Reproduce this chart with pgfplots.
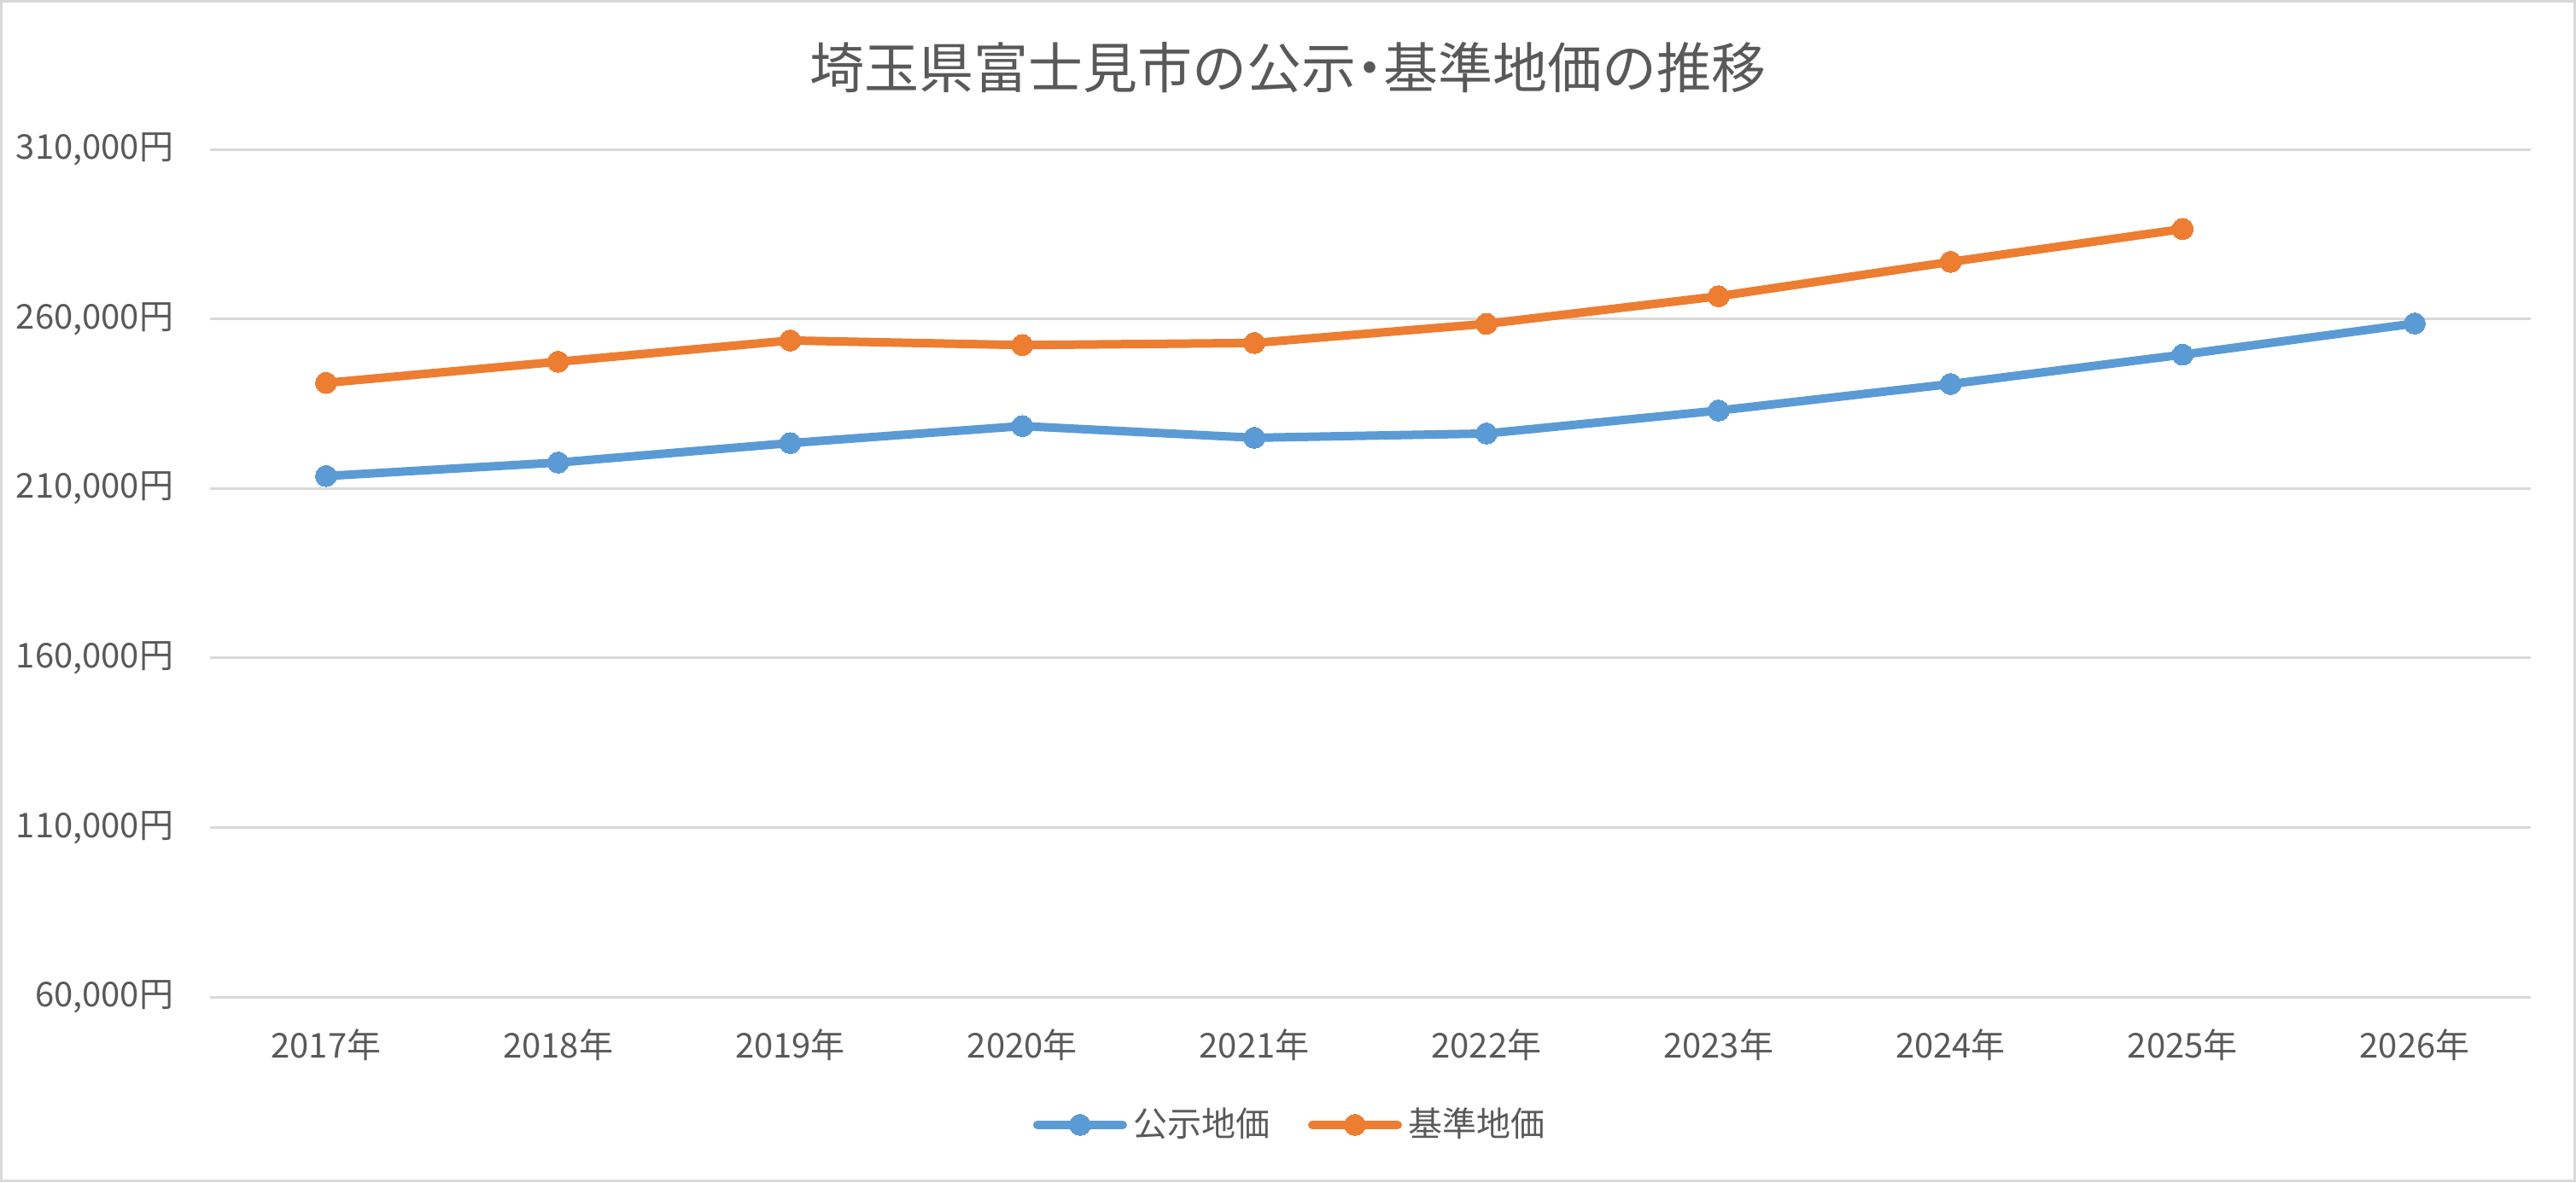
\documentclass[border=0pt]{standalone}
\usepackage{fontspec}
\setmainfont{Noto Sans CJK JP}
\usepackage{pgfplots}
\pgfplotsset{compat=1.18}
\definecolor{txt}{HTML}{595959}
\definecolor{gridc}{HTML}{D9D9D9}
\definecolor{blueS}{HTML}{5B9BD5}
\definecolor{orangeS}{HTML}{ED7D31}
\begin{document}
\begin{tikzpicture}
\useasboundingbox (0,0) rectangle (754.25pt,346.25pt);
\draw[gridc, line width=0.75pt] (0.375pt,0.375pt) rectangle (753.875pt,345.875pt);
\node[text=txt, font=\fontsize{16}{19}\selectfont, inner sep=0pt] at (377.125pt,326.5pt) {埼玉県富士見市の公示\kern-0.25em・\kern-0.25em基準地価の推移};
\begin{axis}[
  at={(61.5pt,54.25pt)}, anchor=south west,
  scale only axis, width=679.5pt, height=248.25pt,
  xmin=2016.5, xmax=2026.5, ymin=60000, ymax=310000,
  axis line style={draw=none},
  tick style={draw=none},
  major tick length=0pt,
  scaled y ticks=false,
  xtick={2017,2018,2019,2020,2021,2022,2023,2024,2025,2026},
  xticklabels={2017年,2018年,2019年,2020年,2021年,2022年,2023年,2024年,2025年,2026年},
  ytick={60000,110000,160000,210000,260000,310000},
  yticklabels={{60,000円},{110,000円},{160,000円},{210,000円},{260,000円},{310,000円}},
  xmajorgrids=false, ymajorgrids=true,
  major grid style={draw=gridc, line width=0.75pt},
  ticklabel style={text=txt, font=\fontsize{10}{12}\selectfont},
  yticklabel style={anchor=east, inner sep=0pt, xshift=-10.5pt},
  xticklabel style={anchor=center, inner sep=0pt, yshift=-14pt},
  /pgf/number format/assume math mode=true,
  clip=false,
  legend columns=2,
  legend style={at={(0.4665,-0.151)}, anchor=center, draw=none, fill=none,
    font=\fontsize{10}{12}\selectfont, text=txt,
    /tikz/every even column/.append style={column sep=9pt}},
  legend image code/.code={
    \draw[#1, mark=none, line cap=round] (0pt,0pt) -- (25pt,0pt);
    \draw[#1] plot coordinates {(12.5pt,0pt)};
  },
  every axis plot/.append style={line width=2.5pt, line cap=round, line join=round, mark=*, mark size=3.1pt},
]
\addplot[color=blueS, mark options={fill=blueS, draw=blueS, line width=0pt}] coordinates {
(2017,213650) (2018,217630) (2019,223370) (2020,228380) (2021,224930)
(2022,226190) (2023,232960) (2024,240790) (2025,249450) (2026,258640)};
\addlegendentry{公示地価}
\addplot[color=orangeS, mark options={fill=orangeS, draw=orangeS, line width=0pt}] coordinates {
(2017,241120) (2018,247360) (2019,253630) (2020,252270) (2021,252900)
(2022,258540) (2023,266670) (2024,276820) (2025,286510)};
\addlegendentry{基準地価}
\end{axis}
\end{tikzpicture}
\end{document}
